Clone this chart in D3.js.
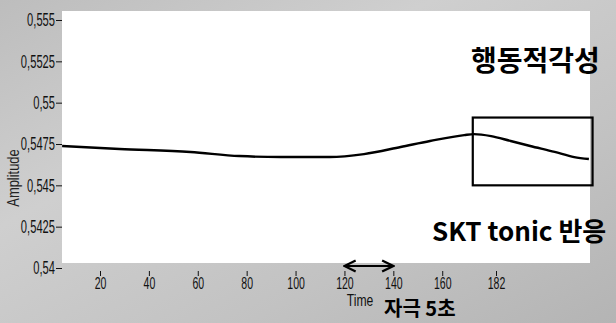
<!DOCTYPE html>
<html>
<head>
<meta charset="utf-8">
<script src="https://cdn.jsdelivr.net/npm/d3@7"></script>
<style>
  body { margin: 0; background: #c6c6c6; }
  svg { display: block; }
  .tick text { font-family: "Liberation Sans", Arial, sans-serif; }
</style>
</head>
<body>
<div id="chart"></div>
<script>
// signal (time, amplitude)
const times = [4.5, 28, 57, 77, 94, 114, 128, 143, 155, 169, 173, 180, 188, 196, 206, 214, 220];
const amplitude = [0.54738, 0.5472, 0.54702, 0.54677, 0.54671, 0.54671, 0.54689, 0.54732, 0.54768, 0.54804, 0.5481, 0.54798, 0.54768, 0.54738, 0.54702, 0.54671, 0.54659];
const yTicks = [0.54, 0.5425, 0.545, 0.5475, 0.55, 0.5525, 0.555];
const xTicks = [20, 40, 60, 80, 100, 120, 140, 160, 182];
const boxTime = [172.5, 221.5];
const boxAmp = [0.5491, 0.5450];
const stimulus = [120, 140];

const width = 616, height = 323;
const svg = d3.select('#chart').append('svg')
  .attr('width', width)
  .attr('height', height);

const defs = svg.append('defs');
const grad = defs.append('linearGradient').attr('id', 'bg')
  .attr('x1', '0').attr('y1', '0').attr('x2', '1').attr('y2', '1');
grad.append('stop').attr('offset', '0%').attr('stop-color', '#bdbdbd');
grad.append('stop').attr('offset', '35%').attr('stop-color', '#cfcfcf');
grad.append('stop').attr('offset', '70%').attr('stop-color', '#c2c2c2');
grad.append('stop').attr('offset', '100%').attr('stop-color', '#b4b4b4');
svg.append('rect').attr('width', width).attr('height', height).attr('fill', 'url(#bg)');

const x = d3.scaleLinear().domain([20, 182]).range([100, 496]);
const y = d3.scaleLinear().domain([0.54, 0.555]).range([268, 20]);

// plot area
svg.append('rect')
  .attr('x', 62).attr('y', 11)
  .attr('width', 528).attr('height', 252)
  .attr('fill', '#fff');

const fmt = d => d3.format('')(d).replace('.', ',');
const squeeze = 0.62;

const yAxis = svg.append('g')
  .attr('transform', 'translate(62,0)')
  .call(d3.axisLeft(y).tickValues(yTicks).tickFormat(fmt).tickSize(6));
yAxis.select('.domain').remove();
yAxis.selectAll('.tick line').attr('stroke', '#111');
yAxis.selectAll('.tick text')
  .attr('fill', '#111').style('font-size', '18px')
  .attr('x', -7 / squeeze)
  .attr('transform', `scale(${squeeze},1)`);

const xAxis = svg.append('g')
  .attr('transform', 'translate(0,271)')
  .call(d3.axisBottom(x).tickValues(xTicks).tickSize(5).tickPadding(1));
xAxis.select('.domain').remove();
xAxis.selectAll('.tick line').attr('stroke', '#111');
xAxis.selectAll('.tick text')
  .attr('fill', '#111').style('font-size', '17px')
  .attr('transform', `scale(${squeeze},1)`);

svg.append('text')
  .attr('transform', 'translate(19,178) rotate(-90) scale(0.76,1)')
  .attr('text-anchor', 'middle')
  .style('font-family', '"Liberation Sans", Arial, sans-serif')
  .style('font-size', '17px')
  .attr('fill', '#222')
  .text('Amplitude');

// signal line
const line = d3.line()
  .x((d, i) => x(times[i]))
  .y(d => y(d))
  .curve(d3.curveMonotoneX);
svg.append('path')
  .datum(amplitude)
  .attr('d', line)
  .attr('fill', 'none')
  .attr('stroke', '#000')
  .attr('stroke-width', 2.4);

// highlighted region
svg.append('rect')
  .attr('x', x(boxTime[0]))
  .attr('y', y(boxAmp[0]))
  .attr('width', x(boxTime[1]) - x(boxTime[0]))
  .attr('height', y(boxAmp[1]) - y(boxAmp[0]))
  .attr('fill', 'none')
  .attr('stroke', '#000')
  .attr('stroke-width', 2.2);

// stimulus arrow
defs.append('marker').attr('id', 'ah')
  .attr('viewBox', '0 0 10 10').attr('refX', 9).attr('refY', 5)
  .attr('markerWidth', 7).attr('markerHeight', 7).attr('orient', 'auto-start-reverse')
  .append('path').attr('d', 'M1,1 L9,5 L1,9').attr('fill', 'none').attr('stroke', '#000').attr('stroke-width', 1.6);
svg.append('line')
  .attr('x1', x(stimulus[0])).attr('x2', x(stimulus[1]))
  .attr('y1', 266).attr('y2', 266)
  .attr('stroke', '#000').attr('stroke-width', 2)
  .attr('marker-start', 'url(#ah)').attr('marker-end', 'url(#ah)');

svg.append('text')
  .attr('transform', 'translate(360,306) scale(0.76,1)')
  .attr('text-anchor', 'middle')
  .style('font-family', '"Liberation Sans", Arial, sans-serif')
  .style('font-size', '16px')
  .attr('fill', '#111')
  .text('Time');

const kfont = '"Noto Sans CJK KR", sans-serif';
svg.append('text')
  .attr('x', 384).attr('y', 316)
  .style('font-family', kfont).style('font-weight', 'bold').style('font-size', '20px')
  .attr('fill', '#000')
  .text('자극 5초');

svg.append('text')
  .attr('x', 471).attr('y', 71)
  .style('font-family', kfont).style('font-weight', 'bold').style('font-size', '28px')
  .attr('fill', '#000')
  .text('행동적각성');

svg.append('text')
  .attr('x', 432).attr('y', 241)
  .style('font-family', kfont).style('font-weight', 'bold').style('font-size', '26px')
  .attr('fill', '#000')
  .text('SKT tonic 반응');
</script>
</body>
</html>
